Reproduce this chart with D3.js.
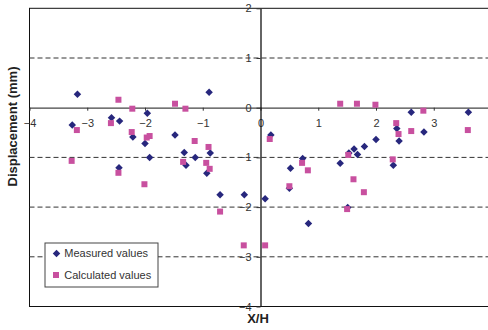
<!DOCTYPE html>
<html>
<head>
<meta charset="utf-8">
<script src="https://cdn.jsdelivr.net/npm/d3@7"></script>
<style>
    body { margin: 0; background: #fff; }
    svg { display: block; font-family: "Liberation Sans", Arial, sans-serif; }
</style>
</head>
<body>
<div id="chart"></div>
<script>
// Measured values (X/H, displacement mm)
const measuredX = [-3.17, -3.26, -2.58, -2.44, -1.96, -2.21, -2.00, -1.92, -2.45,
    -0.89, -1.48, -1.32, -1.29, -1.13, -0.87, -0.93, -0.70, -0.28, 0.08, 0.18,
    0.52, 0.73, 0.50, 0.83, 1.38, 1.53, 1.62, 1.68, 1.80, 2.00, 1.51,
    2.61, 3.60, 2.36, 2.40, 2.83, 2.30];
const measuredY = [0.27, -0.35, -0.20, -0.27, -0.11, -0.59, -0.72, -1.00, -1.21,
    0.31, -0.55, -0.90, -1.16, -1.00, -0.91, -1.32, -1.75, -1.75, -1.83, -0.55,
    -1.22, -1.02, -1.62, -2.33, -1.12, -0.91, -0.83, -0.94, -0.78, -0.64, -2.01,
    -0.09, -0.09, -0.42, -0.67, -0.49, -1.16];

// Calculated values
const calculatedX = [-2.46, -2.22, -3.18, -2.59, -2.23, -1.97, -1.92, -3.27, -2.46, -2.01,
    -1.48, -1.30, -1.14, -0.90, -1.34, -0.94, -0.88, -0.70, -0.29, 0.08, 0.16,
    1.38, 1.67, 1.99, 0.72, 0.82, 0.50, 1.52, 1.61, 1.79, 1.50,
    2.82, 2.35, 2.39, 2.61, 3.59, 2.29];
const calculatedY = [0.16, -0.02, -0.45, -0.31, -0.49, -0.60, -0.57, -1.07, -1.31, -1.54,
    0.08, -0.02, -0.67, -0.79, -1.09, -1.11, -1.23, -2.09, -2.77, -2.77, -0.63,
    0.08, 0.08, 0.06, -1.11, -1.26, -1.58, -0.95, -1.44, -1.70, -2.04,
    -0.06, -0.31, -0.53, -0.47, -0.45, -1.04];

// the "4" tick falls past the right edge of the picture
const xTicks = [-4, -3, -2, -1, 0, 1, 2, 3];
const yTicks = [-4, -3, -2, -1, 0, 1, 2];
const gridValues = [1, -1, -2, -3];
const seriesNames = ['Measured values', 'Calculated values'];

const width = 488;
const height = 330;
const navy = '#27277d';
const pink = '#c8509f';

const x = d3.scaleLinear().domain([-4, 4]).range([29.5, 491.5]);
const y = d3.scaleLinear().domain([-4, 2]).range([306.5, 8.3]);

const svg = d3.select('#chart')
    .append('svg')
    .attr('width', width)
    .attr('height', height);

// Plot area
svg.append('rect')
    .attr('x', x(-4))
    .attr('y', y(2))
    .attr('width', x(4) - x(-4))
    .attr('height', y(-4) - y(2))
    .attr('fill', '#fff')
    .attr('stroke', '#111')
    .attr('stroke-width', 1);

// Dashed gridlines
svg.selectAll('.grid')
    .data(gridValues)
    .enter()
    .append('line')
    .attr('class', 'grid')
    .attr('x1', x(-4))
    .attr('x2', x(4))
    .attr('y1', d => y(d))
    .attr('y2', d => y(d))
    .attr('stroke', '#333')
    .attr('stroke-dasharray', '5,3')
    .attr('stroke-width', 1);

// X axis through y = 0
const xAxis = svg.append('g')
    .attr('transform', `translate(0,${y(0)})`)
    .call(d3.axisBottom(x).tickValues(xTicks).tickFormat(d3.format('d'))
        .tickSizeInner(3).tickSizeOuter(0).tickPadding(9));
xAxis.select('.domain').attr('stroke', '#444').attr('stroke-width', 1.3);
xAxis.selectAll('.tick line').attr('stroke', '#333');
xAxis.selectAll('.tick text')
    .attr('fill', '#333')
    .style('font-size', '11px');

// Y axis through x = 0
const yAxis = svg.append('g')
    .attr('transform', `translate(${x(0)},0)`)
    .call(d3.axisLeft(y).tickValues(yTicks).tickFormat(d3.format('d'))
        .tickSizeInner(4).tickSizeOuter(0).tickPadding(5));
yAxis.select('.domain').attr('stroke', '#111').attr('stroke-width', 1.3);
yAxis.selectAll('.tick line').attr('stroke', '#333');
yAxis.selectAll('.tick text')
    .attr('fill', '#333')
    .style('font-size', '11px');

// Markers
const diamond = d3.symbol().type(d3.symbolSquare).size(28);
const square = d3.symbol().type(d3.symbolSquare).size(36);

svg.append('g')
    .selectAll('path')
    .data(d3.range(measuredX.length))
    .enter()
    .append('path')
    .attr('d', diamond)
    .attr('transform', i => `translate(${x(measuredX[i])},${y(measuredY[i])}) rotate(45)`)
    .attr('fill', navy);

svg.append('g')
    .selectAll('path')
    .data(d3.range(calculatedX.length))
    .enter()
    .append('path')
    .attr('d', square)
    .attr('transform', i => `translate(${x(calculatedX[i])},${y(calculatedY[i])})`)
    .attr('fill', pink);

// Axis titles
svg.append('text')
    .attr('transform', 'translate(17,126.5) rotate(-90)')
    .attr('text-anchor', 'middle')
    .style('font-size', '13px')
    .style('font-weight', 'bold')
    .attr('fill', '#222')
    .text('Displacement (mm)');

svg.append('text')
    .attr('x', 258)
    .attr('y', 323.3)
    .attr('text-anchor', 'middle')
    .style('font-size', '13px')
    .style('font-weight', 'bold')
    .attr('fill', '#222')
    .text('X/H');

// Legend
const legend = svg.append('g').attr('transform', 'translate(45,243)');
legend.append('rect')
    .attr('width', 113)
    .attr('height', 44)
    .attr('fill', '#fff')
    .attr('stroke', '#444')
    .attr('stroke-width', 1);

const items = legend.selectAll('.item')
    .data(seriesNames)
    .enter()
    .append('g')
    .attr('class', 'item')
    .attr('transform', (d, i) => `translate(0,${10.5 + i * 21.5})`);

items.append('path')
    .attr('d', (d, i) => i === 0 ? diamond() : square())
    .attr('transform', (d, i) => i === 0 ? 'translate(11.5,0) rotate(45)' : 'translate(11,0)')
    .attr('fill', (d, i) => i === 0 ? navy : pink);

items.append('text')
    .attr('x', 19.3)
    .attr('dy', '0.35em')
    .style('font-size', '11px')
    .attr('fill', '#333')
    .text(d => d);
</script>
</body>
</html>
